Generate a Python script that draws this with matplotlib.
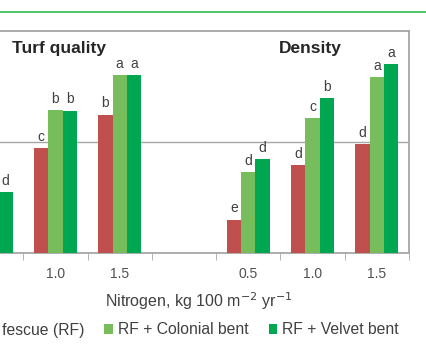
import numpy as np
import matplotlib.pyplot as plt
from matplotlib.lines import Line2D
from matplotlib.patches import Patch

plt.rcParams["font.family"] = ["Liberation Sans", "DejaVu Sans"]

# ── Data ───────────────────────────────────────────────────────────────────────
categories = ["0.5", "1.0", "1.5", "", "0.5", "1.0", "1.5"]
series_names = ["Red fescue (RF)", "RF + Colonial bent", "RF + Velvet bent"]
red_fescue = [1.6, 4.73, 6.22, np.nan, 1.49, 3.96, 4.91]
colonial = [2.3, 6.44, 8.02, np.nan, 3.65, 6.08, 7.93]
velvet = [2.75, 6.40, 8.02, np.nan, 4.23, 6.98, 8.51]
# letters of the first group's first two bars are outside the cropped view
letters_red = ["", "c", "b", "", "e", "d", "d"]
letters_col = ["", "b", "a", "", "d", "c", "a"]
letters_vel = ["d", "b", "a", "", "d", "b", "a"]
panel_titles = ["Turf quality", "Density"]

COLORS = ["#C0504D", "#77BD5B", "#00A650"]
GRID = "#A6A6A6"
TXT = "#404040"

W, H = 426, 354
fig = plt.figure(figsize=(W / 100, H / 100), dpi=100)

# axes extends past the left edge (cropped view)
x0, x1, ytop, ybot = -41, 409, 31, 253
ax = fig.add_axes([x0 / W, 1 - ybot / H, (x1 - x0) / W, (ybot - ytop) / H])

x = np.arange(len(categories))
bw = 0.222
series = [red_fescue, colonial, velvet]
letters = [letters_red, letters_col, letters_vel]
for k, (vals, labs) in enumerate(zip(series, letters)):
    xs = x + (k - 1) * bw
    ax.bar(xs, vals, width=bw, color=COLORS[k], zorder=3)
    for xi, v, lab in zip(xs, vals, labs):
        if lab and not np.isnan(v):
            ax.text(xi, v + 0.2, lab, ha="center", va="bottom",
                    fontsize=10, color=TXT)

ax.set_xlim(-0.5, len(categories) - 0.5)
ax.set_ylim(0, 10)
ax.set_yticks([5])
ax.yaxis.grid(True, color=GRID, lw=1)
ax.tick_params(axis="y", left=False, labelleft=False)

ax.set_xticks(x)
ax.set_xticklabels(categories, fontsize=10, color="#505050")
ax.set_xticks(np.arange(len(categories) + 1) - 0.5, minor=True)
ax.tick_params(axis="x", which="major", length=0, pad=10)
ax.tick_params(axis="x", which="minor", length=5, color=GRID, direction="out")

for side in ["top", "right", "bottom", "left"]:
    ax.spines[side].set_color(GRID)
    ax.spines[side].set_linewidth(1.3)

# panel titles
fig.text(12 / W, 1 - 48 / H, panel_titles[0], fontsize=12.5, fontweight="bold",
         color="#262626", ha="left", va="center")
fig.text(342 / W, 1 - 48 / H, panel_titles[1], fontsize=12.5, fontweight="bold",
         color="#262626", ha="right", va="center")

# x-axis title
fig.text(199 / W, 1 - 301 / H, r"Nitrogen, kg 100 m$^{-2}$ yr$^{-1}$",
         fontsize=11.5, color=TXT, ha="center", va="center")

# legend
handles = [Patch(facecolor=c, edgecolor="none") for c in COLORS]
fig.legend(handles, series_names, loc="center", ncol=3,
           bbox_to_anchor=(177 / W, 1 - 330 / H), frameon=False,
           fontsize=11.3, handlelength=0.55, handleheight=0.55,
           handletextpad=0.3, columnspacing=1.3, borderpad=0,
           labelcolor=TXT)

# green rule at top
fig.add_artist(Line2D([0, 1], [1 - 12 / H, 1 - 12 / H], color="#2DBE4B",
                      lw=1.2, transform=fig.transFigure))

fig.savefig("out.png", dpi=100)
